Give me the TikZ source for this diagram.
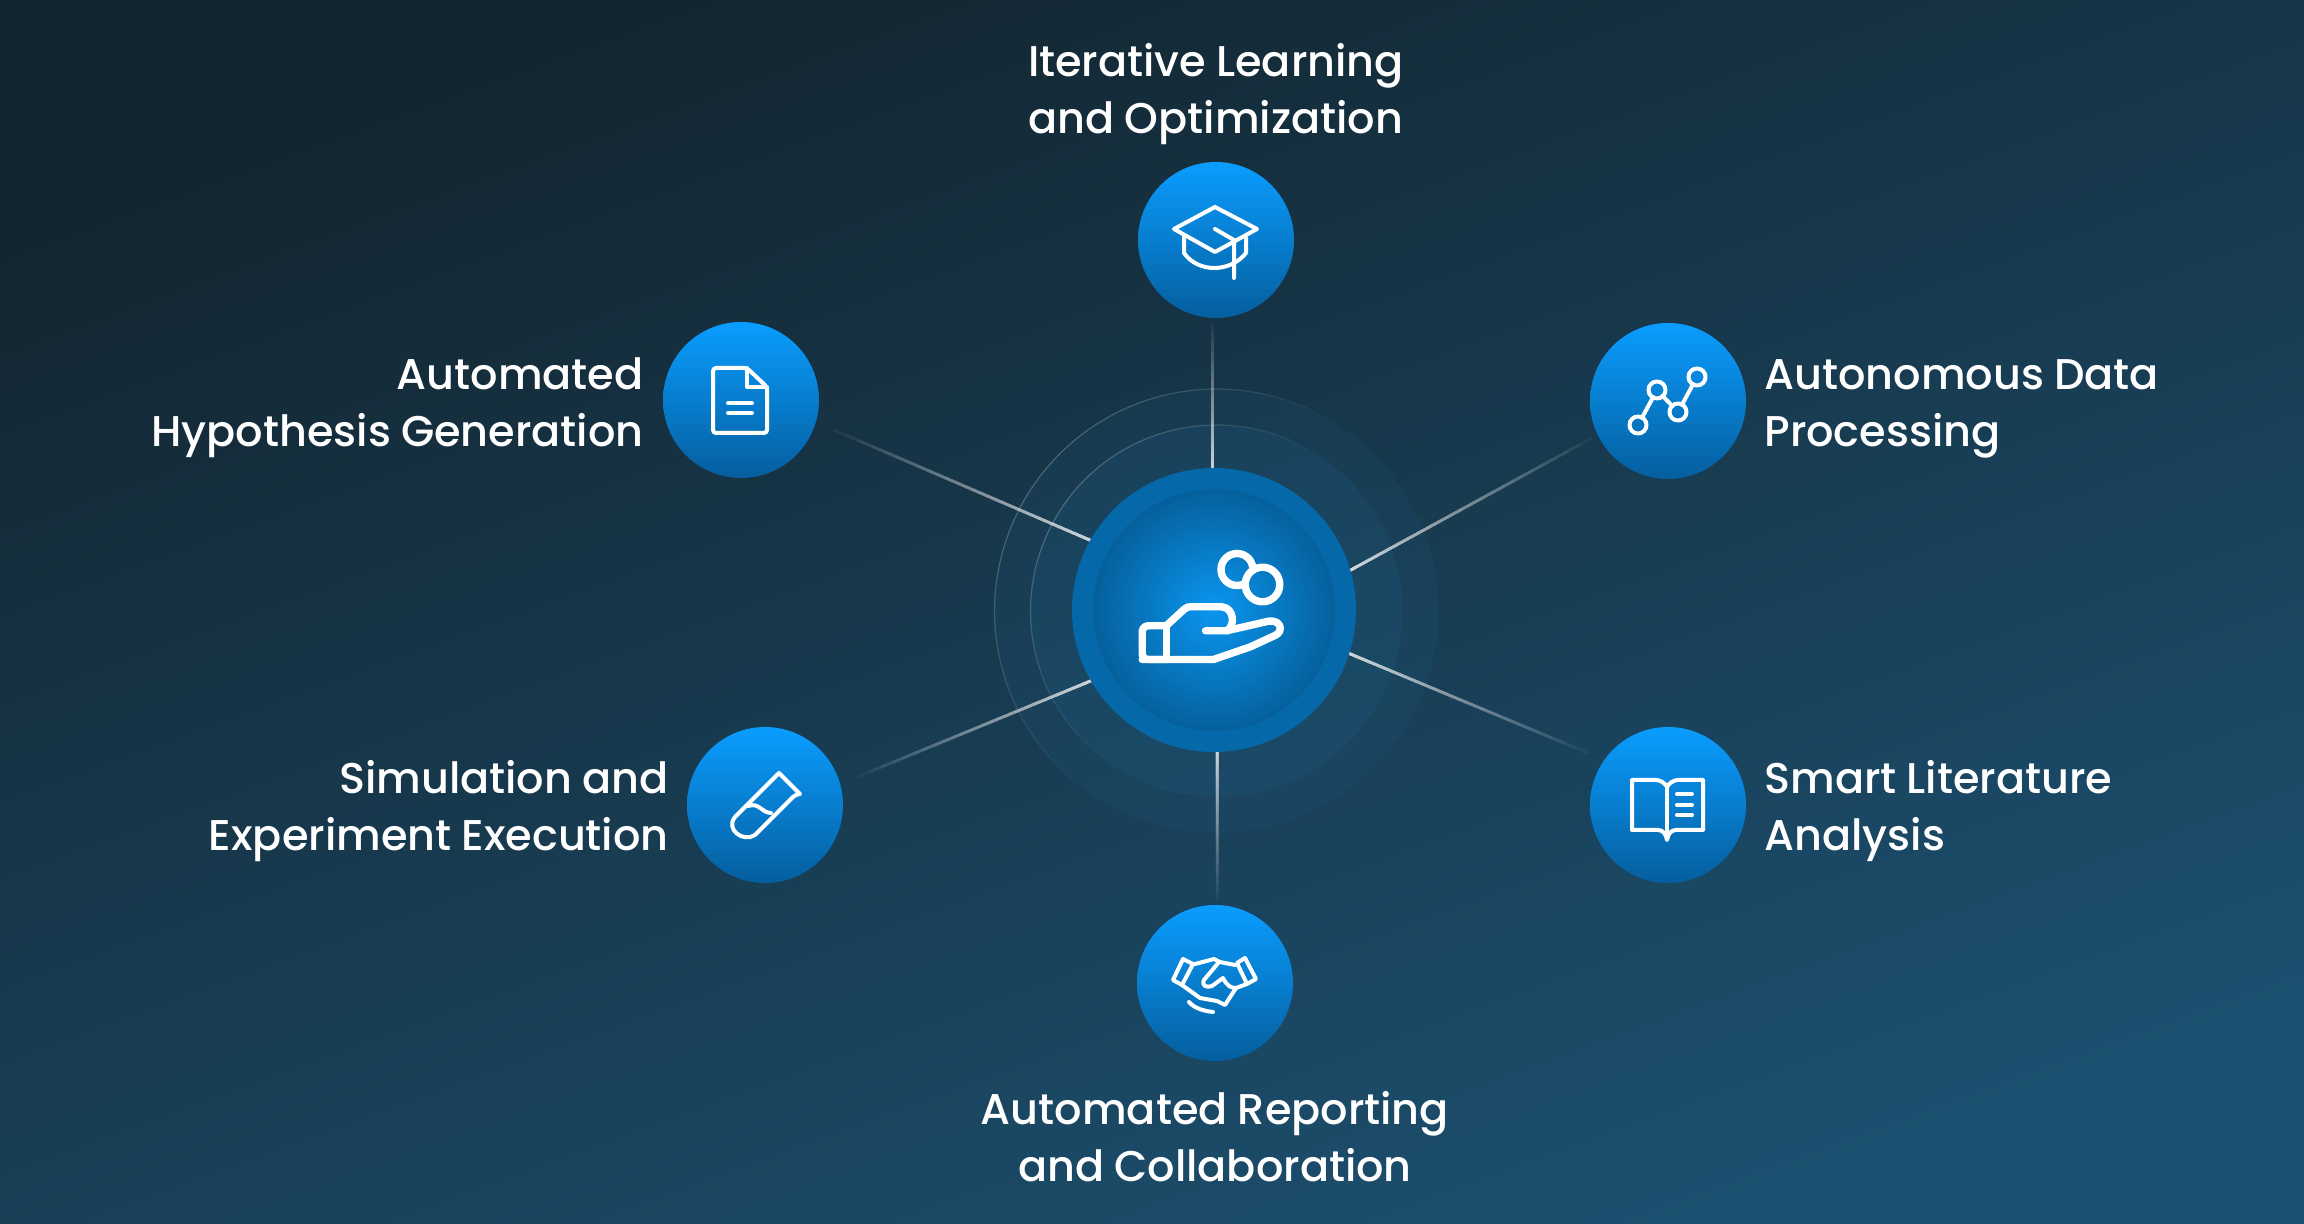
\documentclass[tikz,border=0pt]{standalone}
\usepackage{fontspec}
\usetikzlibrary{calc}
\setmainfont[WordSpace=0.9]{Poppins Medium}
\definecolor{bgA}{HTML}{13252F}
\definecolor{bgB}{HTML}{1A3D54}
\definecolor{bgC}{HTML}{1C5070}
\definecolor{satTop}{HTML}{0A9DFF}
\definecolor{satBot}{HTML}{055E9E}
\definecolor{hubRim}{HTML}{0568A8}
\definecolor{hubIn}{HTML}{0A96F0}
\definecolor{hubOut}{HTML}{05609C}
\definecolor{haloFill}{HTML}{2A86C4}
\tikzset{
  x=0.5pt,y=-0.5pt,
  sat/.style={circle,inner sep=0pt,minimum size=78pt,top color=satTop,bottom color=satBot,draw=none},
  hubring/.style={circle,inner sep=0pt,minimum size=142pt,fill=hubRim,draw=none},
  hubcore/.style={circle,inner sep=0pt,minimum size=121pt,inner color=hubIn,outer color=hubOut,draw=none},
  lab/.style={text=white,font=\fontsize{21.5}{28.5}\selectfont,inner sep=0pt},
  conn/.style={draw=white,line width=1.5pt,draw opacity=0.045},
  ico/.style={draw=white,line width=2pt,line cap=round,line join=round},
  bigico/.style={draw=white,line width=3.7pt,line cap=round,line join=round},
}
% a spoke that brightens towards the hub: stacked translucent strokes, so no seams
\newcommand{\spoke}[2]{%
  \foreach \i in {1,...,42}{%
    \pgfmathsetmacro\fa{max(0,(1-0.955^\i-0.05)/0.8)}%
    \draw[conn] ($(#1)!\fa!(#2)$) -- (#2);
  }}
\newcommand{\ringline}[2]{%
  \foreach \a in {0,6,...,354}{%
    \pgfmathsetmacro\op{max(0,0.22*cos(\a+3-215))}%
    \pgfmathsetmacro\b{\a+6}%
    \draw[white,line width=0.6pt,draw opacity=\op] ($(#1)+(\a:#2)$) arc[start angle=\a,end angle=\b,radius=#2];
  }}
\begin{document}
\begin{tikzpicture}
\useasboundingbox (0,0) rectangle (2304,1224);
\shade[top color=bgA,middle color=bgB,bottom color=bgC,shading angle=20] (0,0) rectangle (2304,1224);

% halos
\coordinate (haloC) at (1216.5,611);
\fill[haloFill,fill opacity=0.07] (haloC) circle[radius=222];
\fill[haloFill,fill opacity=0.09] (haloC) circle[radius=186];
\ringline{haloC}{222}
\ringline{haloC}{186}

% connectors
\coordinate (sTop) at (1212,323); \coordinate (hTop) at (1212,472);
\coordinate (sBot) at (1217,900); \coordinate (hBot) at (1217,748);
\coordinate (sTL) at (834,430);  \coordinate (hTL) at (1092,541);
\coordinate (sTR) at (1592,438); \coordinate (hTR) at (1349,571);
\coordinate (sBR) at (1588,753); \coordinate (hBR) at (1348,653);
\coordinate (sBL) at (857,777);  \coordinate (hBL) at (1093,680);
\spoke{sTop}{hTop}
\spoke{sBot}{hBot}
\spoke{sTL}{hTL}
\spoke{sTR}{hTR}
\spoke{sBR}{hBR}
\spoke{sBL}{hBL}

% hub
\node[hubring] (hub) at (1214,610) {};
\node[hubcore] (core) at (1214,610) {};

% satellites
\node[sat] (top) at (1216,240) {};
\node[sat] (tl) at (741,400) {};
\node[sat] (tr) at (1668,401) {};
\node[sat] (br) at (1668,805) {};
\node[sat] (bl) at (765,805) {};
\node[sat] (bot) at (1215,983) {};

% graduation cap
\begin{scope}[shift={(top)}]
\draw[ico] (-1,-33) -- (41,-11) -- (-1,12) -- (-42,-11) -- cycle;
\draw[ico] (-32,-3) -- (-32,13) .. controls (-18,33) and (14,33) .. (30,13) -- (30,-2);
\draw[ico] (-1,-11) -- (18,0) -- (18,38);
\end{scope}

% document
\begin{scope}[shift={(tl)}]
\draw[ico,rounded corners=1.5pt] (-28,-32) -- (6,-32) -- (26,-13) -- (26,33) -- (-28,33) -- cycle;
\draw[ico] (6,-32) -- (6,-13) -- (26,-13);
\draw[ico] (-13,3) -- (11,3);
\draw[ico] (-13,13) -- (11,13);
\end{scope}

% chart
\begin{scope}[shift={(tr)}]
\coordinate (c1) at (-30,24); \coordinate (c2) at (-11,-11);
\coordinate (c3) at (10,11); \coordinate (c4) at (29,-24);
\draw[ico,shorten >=4pt,shorten <=4pt] (c1) -- (c2);
\draw[ico,shorten >=4pt,shorten <=4pt] (c2) -- (c3);
\draw[ico,shorten >=4pt,shorten <=4pt] (c3) -- (c4);
\foreach \c in {c1,c2,c3,c4}{\draw[ico] (\c) circle[radius=8.5];}
\end{scope}

% book
\begin{scope}[shift={(br)}]
\draw[ico] (-36,-25) -- (-12,-25) .. controls (-8,-25) and (-3,-22) .. (-1,-18)
  .. controls (1,-22) and (6,-25) .. (10,-25) -- (35,-25) -- (35,25) -- (8,25)
  .. controls (3,25) and (0,29) .. (-1,35) .. controls (-2,29) and (-5,25) .. (-10,25)
  -- (-36,25) -- cycle;
\draw[ico] (-1,-18) -- (-1,28);
\draw[ico] (9,-11) -- (24,-11);
\draw[ico] (9,0) -- (24,0);
\draw[ico] (9,10) -- (24,10);
\end{scope}

% test tube
\begin{scope}[shift={(bl)}]
\draw[ico] (14,-32) -- (-30,12) .. controls (-40,24) and (-22,38) .. (-10,30)
  -- (28,-8) .. controls (30,-10) and (33,-11) .. (35,-11) -- cycle;
\draw[ico] (-17,1) .. controls (-6,-3) and (-3,8) .. (6,8);
\end{scope}

% handshake
\begin{scope}[shift={(bot)}]
\draw[ico] (-42,-3) -- (-32,-24) -- (-22,-19) -- (-33,2) -- cycle;
\draw[ico] (22,-20) -- (30,-25) -- (41,-4) -- (32,1) -- cycle;
\draw[ico] (-20,-19) -- (-1,-24) -- (5,-21) -- (20,-18);
\draw[ico] (-33,2) -- (-15,15) -- (2,18) -- (10,22) -- (21,5) -- (32,1);
\draw[ico] (4,-21) -- (-11,-3) .. controls (-14,3) and (-8,5) .. (-3,3) -- (8,-5) .. controls (12,3) and (16,5) .. (21,5);
\draw[ico] (-26,19) .. controls (-20,26) and (-10,28) .. (-2,29);
\end{scope}

% hand with coins
\begin{scope}[shift={(1213.5,609.5)}]
\coordinate (ca) at (23.5,-40);
\coordinate (cb) at (49,-25);
\draw[bigico] ($(ca)+(58:16)$) arc[start angle=58,end angle=362,radius=16];
\draw[bigico] (cb) circle[radius=17.3];
\draw[bigico,rounded corners=3pt] (-47.3,16.3) -- (-71.3,16.3) -- (-71.3,50) -- (-47.3,50);
\draw[bigico] (-47.3,16.3) -- (-47.3,50);
\draw[bigico] (-47.3,16.3) -- (-29,-0.5) .. controls (-27,-2.3) and (-25,-2.7) .. (-23,-2.7) -- (8,-2.7)
  .. controls (21,-2) and (22,17) .. (13,21.3) -- (-8,21.3);
\draw[bigico] (13,21.3) -- (55,11.7) .. controls (68,10) and (70,22) .. (62,25.7)
  -- (37,37.3) -- (0,50) -- (-71.3,50);
\end{scope}

% labels
\node[lab,align=center] (lTop) at (1216,94) {Iterative Learning\\and Optimization};
\node[lab,align=right,anchor=east] (lTL) at (644,408) {Automated\\Hypothesis Generation};
\node[lab,align=left,anchor=west] (lTR) at (1764,409) {Autonomous Data\\Processing};
\node[lab,align=left,anchor=west] (lBR) at (1764,811) {Smart Literature\\Analysis};
\node[lab,align=right,anchor=east] (lBL) at (669,811) {Simulation and\\Experiment Execution};
\node[lab,align=center] (lBot) at (1215,1137) {Automated Reporting\\and Collaboration};
\end{tikzpicture}
\end{document}
